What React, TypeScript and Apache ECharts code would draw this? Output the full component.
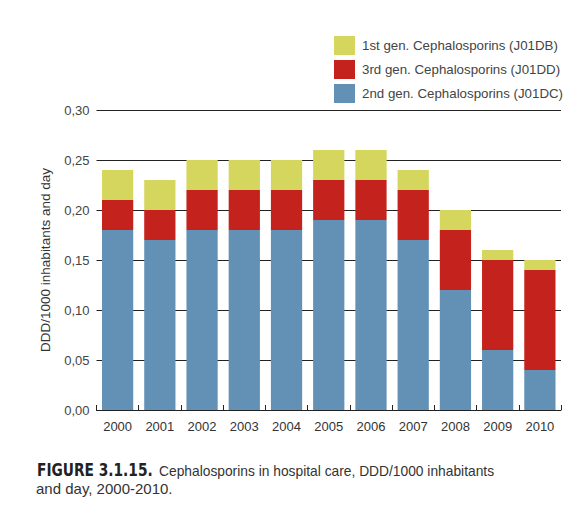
import React, { useEffect, useRef } from "react";
import * as echarts from "echarts";

const years = ["2000", "2001", "2002", "2003", "2004", "2005", "2006", "2007", "2008", "2009", "2010"];
const gen2 = [0.18, 0.17, 0.18, 0.18, 0.18, 0.19, 0.19, 0.17, 0.12, 0.06, 0.04];
const gen3 = [0.03, 0.03, 0.04, 0.04, 0.04, 0.04, 0.04, 0.05, 0.06, 0.09, 0.10];
const gen1 = [0.03, 0.03, 0.03, 0.03, 0.03, 0.03, 0.03, 0.02, 0.02, 0.01, 0.01];

const names = {
  gen1: "1st gen. Cephalosporins (J01DB)",
  gen3: "3rd gen. Cephalosporins (J01DD)",
  gen2: "2nd gen. Cephalosporins (J01DC)",
};

const captionBold = "FIGURE 3.1.15.";
const captionLine1 = "Cephalosporins in hospital care, DDD/1000 inhabitants";
const captionLine2 = "and day, 2000-2010.";

const FONT = "Liberation Sans";

export default function App() {
  const ref = useRef<HTMLDivElement>(null);
  useEffect(() => {
    if (!ref.current) return;
    const chart = echarts.init(ref.current, undefined, { renderer: "svg" });
    const bar = (name: string, data: number[], color: string) => ({
      name,
      type: "bar",
      stack: "total",
      data,
      barWidth: "74%",
      itemStyle: { color },
      emphasis: { disabled: true },
    });
    chart.setOption({
      animation: false,
      backgroundColor: "#ffffff",
      textStyle: { fontFamily: FONT },
      legend: {
        orient: "vertical",
        left: 329,
        top: 31,
        itemWidth: 21,
        itemHeight: 19,
        itemGap: 5,
        icon: "rect",
        data: [names.gen1, names.gen3, names.gen2],
        textStyle: { fontSize: 13.3, color: "#444", fontFamily: FONT, padding: [0, 0, 0, 2] },
        selectedMode: false,
      },
      grid: { left: 96.5, right: 18, top: 110, bottom: 104, containLabel: false },
      xAxis: {
        type: "category",
        data: years,
        axisLine: { show: true, lineStyle: { color: "#222", width: 1 } },
        axisTick: { show: true, inside: true, length: 5, lineStyle: { color: "#222" } },
        axisLabel: { color: "#333", fontSize: 13, margin: 10, fontFamily: FONT },
      },
      yAxis: {
        type: "value",
        min: 0,
        max: 0.3,
        interval: 0.05,
        name: "DDD/1000 inhabitants and day",
        nameLocation: "middle",
        nameGap: 44,
        nameTextStyle: { color: "#333", fontSize: 13.5, fontFamily: FONT },
        axisLine: { show: false },
        axisTick: { show: false },
        splitLine: { show: true, lineStyle: { color: "#222", width: 1 } },
        axisLabel: {
          color: "#444",
          fontSize: 13,
          margin: 7,
          fontFamily: FONT,
          formatter: (v: number) => v.toFixed(2).replace(".", ","),
        },
      },
      series: [
        bar(names.gen2, gen2, "#6391b5"),
        bar(names.gen3, gen3, "#c4221c"),
        bar(names.gen1, gen1, "#d4d65e"),
      ],
      graphic: [
        {
          type: "text",
          x: 37,
          y: 461,
          scaleX: 0.85,
          style: {
            text: captionBold,
            fontFamily: "DejaVu Sans Condensed",
            fontWeight: "bold",
            fontSize: 18,
            fill: "#222",
          },
        },
        {
          type: "text",
          x: 159,
          y: 463,
          scaleX: 0.92,
          style: {
            text: captionLine1,
            fontFamily: FONT,
            fontSize: 15,
            fill: "#333",
          },
        },
        {
          type: "text",
          x: 36,
          y: 481,
          style: {
            text: captionLine2,
            fontFamily: FONT,
            fontSize: 15,
            fill: "#333",
          },
        },
      ],
    });
    return () => chart.dispose();
  }, []);
  return (
    <div
      ref={ref}
      style={{ position: "fixed", left: 0, top: 0, width: 579, height: 514, background: "#fff" }}
    />
  );
}
